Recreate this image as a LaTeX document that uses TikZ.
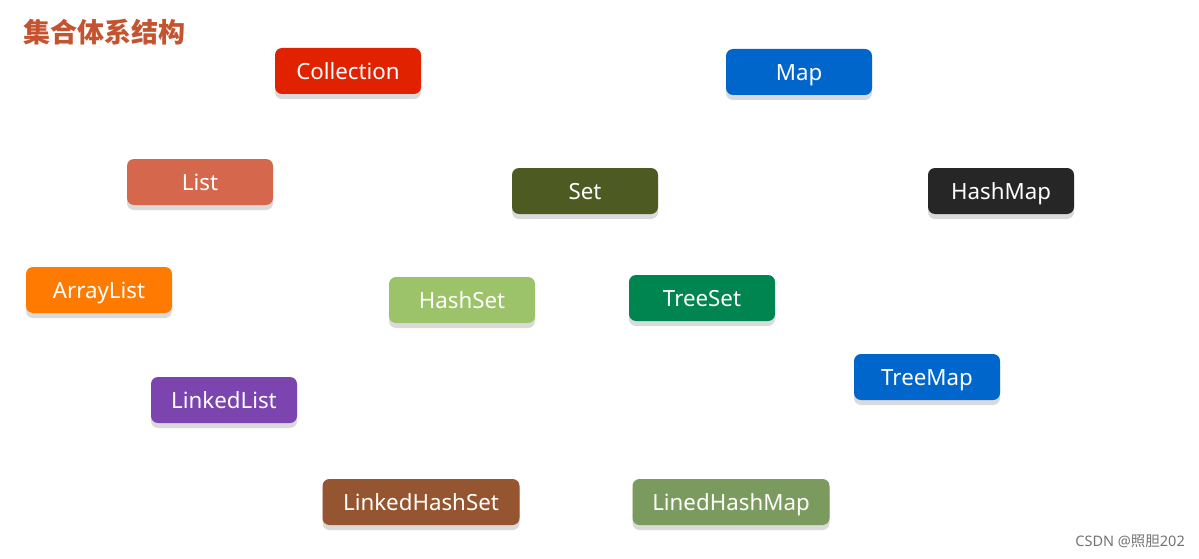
\documentclass[tikz,border=0pt]{standalone}
\usepackage{fontspec}
\setmainfont{Noto Sans}
\newfontfamily\cjk{Noto Sans CJK SC}
\usetikzlibrary{shadows}
\definecolor{cCollection}{HTML}{E02200}
\definecolor{cMap}{HTML}{0066CC}
\definecolor{cList}{HTML}{D5684C}
\definecolor{cSet}{HTML}{4D5A22}
\definecolor{cHashMap}{HTML}{262626}
\definecolor{cArrayList}{HTML}{FF7A00}
\definecolor{cHashSet}{HTML}{9DC36A}
\definecolor{cTreeSet}{HTML}{008450}
\definecolor{cLinkedList}{HTML}{7B44AF}
\definecolor{cLHS}{HTML}{955530}
\definecolor{cLHM}{HTML}{7A9A5E}
\definecolor{cTitle}{HTML}{C4532F}
\definecolor{cShadow}{HTML}{DADADA}
\tikzset{
  box/.style={rounded corners=7pt, minimum width=146pt, minimum height=46pt,
    text=white, font=\fontsize{22.3}{26}\selectfont, inner sep=0pt,
    text height=21pt, text depth=4pt,
    drop shadow={shadow xshift=0pt, shadow yshift=-5pt, fill=cShadow, opacity=1}},
  widebox/.style={box, minimum width=197pt}
}
\begin{document}
\begin{tikzpicture}[x=1pt,y=-1pt]
\useasboundingbox (0,0) rectangle (1199,559);
\node[anchor=west, text=cTitle, font=\cjk\bfseries\fontsize{27}{32}\selectfont, inner sep=0pt] (title) at (23,32) {集合体系结构};
\node[box, fill=cCollection] (collection) at (348,71) {Collection};
\node[box, fill=cMap] (map) at (799,72) {Map};
\node[box, fill=cList] (list) at (200,182) {List};
\node[box, fill=cSet] (set) at (585,191) {Set};
\node[box, fill=cHashMap] (hashmap) at (1001,191) {HashMap};
\node[box, fill=cArrayList] (arraylist) at (99,290) {ArrayList};
\node[box, fill=cHashSet] (hashset) at (462,300) {HashSet};
\node[box, fill=cTreeSet] (treeset) at (702,298) {TreeSet};
\node[box, fill=cMap] (treemap) at (927,377) {TreeMap};
\node[box, fill=cLinkedList] (linkedlist) at (224,400) {LinkedList};
\node[widebox, fill=cLHS] (lhs) at (421,502) {LinkedHashSet};
\node[widebox, fill=cLHM] (lhm) at (731,502) {LinedHashMap};
\node[anchor=east, text=black!55, font=\fontsize{14.5}{17}\selectfont, inner sep=0pt] (wm) at (1185,541) {CSDN @{\cjk 照胆}202};
\end{tikzpicture}
\end{document}
